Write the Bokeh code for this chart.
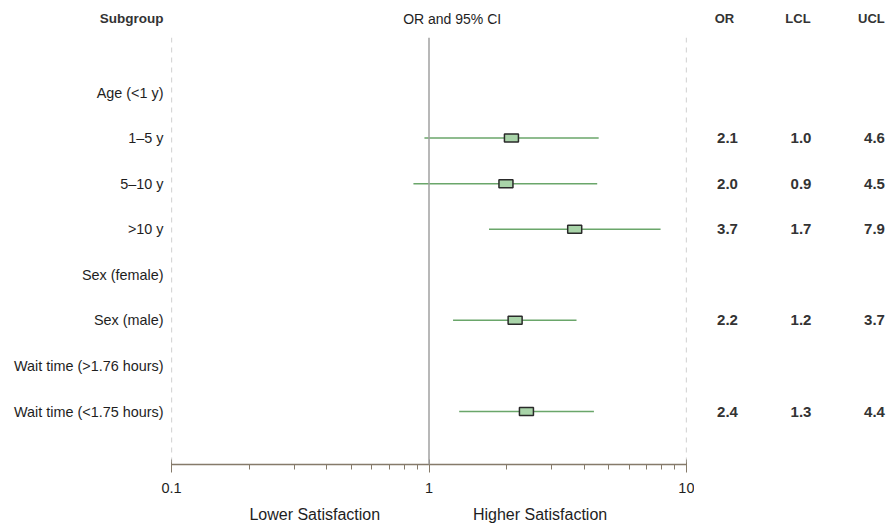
from bokeh.plotting import figure
from bokeh.layouts import row
from bokeh.models import (Range1d, FixedTicker, Span, ColumnDataSource,
                          NumeralTickFormatter, LogAxis)
from bokeh.embed import file_html
from bokeh.resources import INLINE
from bokeh.core.properties import value

# ---------------- data ----------------
subgroups = ["Age (<1 y)", "1\u20135 y", "5\u201310 y", ">10 y", "Sex (female)",
             "Sex (male)", "Wait time (>1.76 hours)", "Wait time (<1.75 hours)"]
or_vals = [None, 2.09, 1.99, 3.68, None, 2.16, None, 2.39]
lcl_vals = [None, 0.96, 0.87, 1.71, None, 1.24, None, 1.31]
ucl_vals = [None, 4.56, 4.50, 7.93, None, 3.74, None, 4.37]
table_columns = ["OR", "LCL", "UCL"]
x_major_ticks = [0.1, 1, 10]
x_minor_ticks = [0.2, 0.3, 0.4, 0.5, 0.6, 0.7, 0.8, 0.9, 2, 3, 4, 5, 6, 7, 8, 9]
direction_labels = ["Lower Satisfaction", "Higher Satisfaction"]
direction_label_x = [0.36, 2.7]
reference_value = 1
plot_header = "OR and 95% CI"
plot_header_x = 1.23
label_header = "Subgroup"

FONT = "Liberation Sans"
TEXT = "#1e1e1e"

n = len(subgroups)
ys = [n - i for i in range(n)]
y_range = Range1d(-0.163, 9.207)
header_y = 9.62

rows_with = [i for i in range(n) if or_vals[i] is not None]
src = ColumnDataSource(dict(
    y=[ys[i] for i in rows_with],
    orv=[or_vals[i] for i in rows_with],
    lcl=[lcl_vals[i] for i in rows_with],
    ucl=[ucl_vals[i] for i in rows_with],
))

H = 527
TOP = 37
BOTTOM = 63

# ---------------- main forest plot ----------------
p = figure(width=694, height=H, x_axis_type="log", x_range=Range1d(0.1, 10),
           y_range=y_range, output_backend="svg", toolbar_location=None,
           min_border_left=171, min_border_right=8, min_border_top=TOP,
           min_border_bottom=BOTTOM)
p.outline_line_color = None
p.grid.visible = False
p.background_fill_color = "white"
p.border_fill_color = "white"

# x axis
xa = p.xaxis[0]
xa.ticker = FixedTicker(ticks=x_major_ticks, minor_ticks=x_minor_ticks)
xa.formatter = NumeralTickFormatter(format="0.[0]")
xa.axis_line_color = "#857a6a"
xa.axis_line_width = 1.5
xa.major_tick_line_color = "#857a6a"
xa.minor_tick_line_color = "#857a6a"
xa.major_tick_in = 5
xa.major_tick_out = 8
xa.minor_tick_in = 0
xa.minor_tick_out = 5
xa.major_label_standoff = 10
xa.major_label_text_font = FONT
xa.major_label_text_font_size = "14.5px"
xa.major_label_text_color = TEXT

# second bottom axis carrying the direction labels
da = LogAxis(ticker=FixedTicker(ticks=direction_label_x),
             major_label_overrides={x: s for x, s in zip(direction_label_x, direction_labels)})
da.axis_line_color = None
da.major_tick_line_color = None
da.minor_tick_line_color = None
da.major_tick_in = 0
da.major_tick_out = 0
da.major_label_standoff = 10
da.major_label_text_font = FONT
da.major_label_text_font_size = "16px"
da.major_label_text_color = TEXT
p.add_layout(da, "below")

# y axis (subgroup labels)
ya = p.yaxis[0]
ya.ticker = FixedTicker(ticks=ys)
ya.major_label_overrides = {y: s for y, s in zip(ys, subgroups)}
ya.axis_line_color = None
ya.major_tick_line_color = None
ya.minor_tick_line_color = None
ya.major_tick_in = 0
ya.major_tick_out = 0
ya.major_label_standoff = 8
ya.major_label_text_font = FONT
ya.major_label_text_font_size = "14.4px"
ya.major_label_text_color = TEXT

# frame reference lines
for loc in (x_major_ticks[0], x_major_ticks[-1]):
    p.add_layout(Span(location=loc, dimension="height", line_color="#b0b0b0",
                      line_width=1.2, line_dash="5 5"))
p.add_layout(Span(location=reference_value, dimension="height",
                  line_color="#a0a0a0", line_width=1.5))

# CIs and point estimates
p.segment(x0="lcl", y0="y", x1="ucl", y1="y", source=src,
          line_color="#6aa66a", line_width=1.5)
p.rect(x="orv", y="y", width=14, height=8, width_units="screen",
       height_units="screen", source=src, fill_color="#a9d4a9",
       line_color="#2a2a2a", line_width=1.5)

# headers (drawn above the frame, so on the overlay level to avoid clipping)
p.text(x=[x_major_ticks[0]], y=[header_y], text=[label_header], x_offset=-8,
       text_align="right", text_baseline="middle", text_font=value(FONT),
       text_font_size="13.5px", text_font_style="bold", text_color="#333333",
       level="overlay")
p.text(x=[plot_header_x], y=[header_y], text=[plot_header],
       text_align="center", text_baseline="middle", text_font=value(FONT),
       text_font_size="14px", text_color=TEXT, level="overlay")

# ---------------- table figure ----------------
tx, ty, tt = [], [], []
for j, vals in enumerate([or_vals, lcl_vals, ucl_vals]):
    for i in rows_with:
        tx.append(j)
        ty.append(ys[i])
        tt.append(f"{vals[i]:.1f}")
tsrc = ColumnDataSource(dict(x=tx, y=ty, text=tt))

t = figure(width=196, height=H, x_range=Range1d(-0.408, 2.259), y_range=y_range,
           output_backend="svg", toolbar_location=None, x_axis_location="above",
           y_axis_location=None, min_border_left=0, min_border_right=0,
           min_border_top=TOP, min_border_bottom=BOTTOM)
t.outline_line_color = None
t.grid.visible = False
ta = t.xaxis[0]
ta.ticker = FixedTicker(ticks=list(range(len(table_columns))))
ta.major_label_overrides = {j: c for j, c in enumerate(table_columns)}
ta.axis_line_color = None
ta.major_tick_line_color = None
ta.minor_tick_line_color = None
ta.major_tick_in = 0
ta.major_tick_out = 0
ta.major_label_standoff = 12
ta.major_label_text_font = FONT
ta.major_label_text_font_size = "13px"
ta.major_label_text_font_style = "bold"
ta.major_label_text_color = "#333333"

t.text(x="x", y="y", text="text", source=tsrc, x_offset=3, text_align="center",
       text_baseline="middle", text_font=value(FONT), text_font_size="15px",
       text_font_style="bold", text_color="#333333")

layout = row(p, t, spacing=0)
open("out.html", "w").write(file_html(layout, INLINE))
